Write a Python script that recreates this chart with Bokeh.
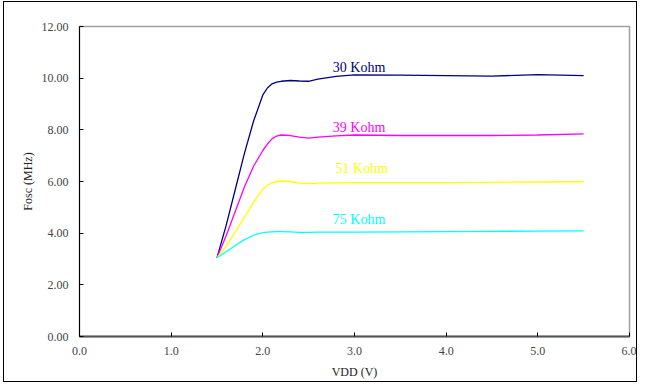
from bokeh.plotting import figure
from bokeh.models import FixedTicker, NumeralTickFormatter, Label
from bokeh.embed import file_html
from bokeh.resources import INLINE

vdd = [1.5, 1.6, 1.7, 1.8, 1.9, 2.0, 2.05, 2.1, 2.15, 2.2, 2.3, 2.4, 2.5, 2.6, 2.8, 3.0, 3.5, 4.0, 4.5, 5.0, 5.5]
f_30k = [3.05, 4.3, 5.7, 7.1, 8.35, 9.35, 9.62, 9.78, 9.85, 9.88, 9.91, 9.89, 9.88, 9.96, 10.07, 10.13, 10.12, 10.1, 10.08, 10.14, 10.1]
f_39k = [3.05, 3.9, 4.85, 5.8, 6.6, 7.2, 7.45, 7.65, 7.76, 7.8, 7.78, 7.72, 7.68, 7.72, 7.77, 7.8, 7.78, 7.78, 7.78, 7.8, 7.84]
f_51k = [3.05, 3.5, 4.05, 4.62, 5.2, 5.7, 5.86, 5.95, 6.0, 6.02, 6.0, 5.94, 5.92, 5.94, 5.95, 5.96, 5.96, 5.96, 5.97, 5.98, 5.99]
f_75k = [3.05, 3.28, 3.52, 3.75, 3.92, 4.02, 4.04, 4.05, 4.06, 4.06, 4.05, 4.03, 4.03, 4.04, 4.04, 4.04, 4.05, 4.06, 4.07, 4.08, 4.09]

series = [
    ("30 Kohm", f_30k, "#000080", 3.05, 10.43),
    ("39 Kohm", f_39k, "#FF00FF", 3.05, 8.1),
    ("51 Kohm", f_51k, "#FFFF00", 3.08, 6.5),
    ("75 Kohm", f_75k, "#00FFFF", 3.05, 4.52),
]

x_ticks = [0, 1, 2, 3, 4, 5, 6]
y_ticks = [0, 2, 4, 6, 8, 10, 12]

FONT = "Liberation Serif"

p = figure(width=634, height=381, output_backend="svg", toolbar_location=None,
           x_range=(0, 6), y_range=(0, 12),
           min_border_left=75, min_border_right=9, min_border_top=24, min_border_bottom=47)
p.styles = {"border": "1.5px solid black", "margin-left": "3px", "margin-top": "1px"}
p.grid.visible = False
p.outline_line_color = "#a0a0a0"
p.outline_line_width = 1.5
p.background_fill_color = "white"
p.border_fill_color = "white"

for name, ys, color, lx, ly in series:
    p.line(vdd, ys, line_color=color, line_width=1.3)
    p.add_layout(Label(x=lx, y=ly, text=name, text_color=color, text_font=FONT,
                       text_font_size="14px", text_align="center", text_baseline="middle"))

for ax in (p.xaxis[0], p.yaxis[0]):
    ax.major_tick_in = 4
    ax.major_tick_out = 0
    ax.minor_tick_line_color = None
    ax.major_label_text_font = FONT
    ax.major_label_text_font_size = "12px"
    ax.major_label_text_color = "#444444"
    ax.axis_label_text_font = FONT
    ax.axis_label_text_font_size = "12px"
    ax.axis_label_text_font_style = "normal"
    ax.axis_label_text_color = "#222222"

p.xaxis.ticker = FixedTicker(ticks=x_ticks)
p.yaxis.ticker = FixedTicker(ticks=y_ticks)
p.xaxis.formatter = NumeralTickFormatter(format="0.0")
p.yaxis.formatter = NumeralTickFormatter(format="0.00")
p.xaxis.axis_label = "VDD (V)"
p.yaxis.axis_label = "Fosc (MHz)"
p.xaxis.axis_line_color = "#555555"
p.xaxis.axis_line_width = 2
p.yaxis.axis_line_color = "black"
p.xaxis.major_label_standoff = 10
p.yaxis.major_label_standoff = 11
p.xaxis.axis_label_standoff = 7
p.yaxis.axis_label_standoff = 4

open("out.html", "w").write(file_html(p, INLINE))
